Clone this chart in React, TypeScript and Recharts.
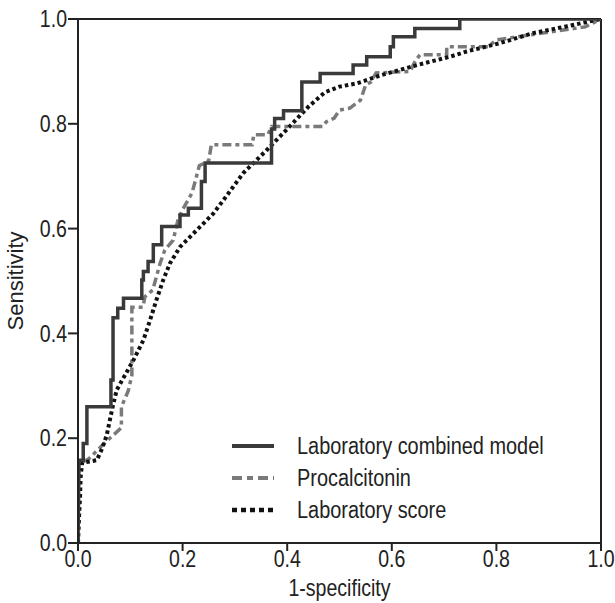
import React from 'react';
import { LineChart, Line, XAxis, YAxis, ReferenceLine } from 'recharts';

// ROC points: false positive rate (1-specificity) and sensitivity
const combinedFpr = [0, 0.002, 0.01, 0.01, 0.017, 0.017, 0.063, 0.063, 0.067, 0.067, 0.076, 0.076, 0.087, 0.087, 0.122, 0.122, 0.125, 0.125, 0.134, 0.134, 0.144, 0.144, 0.16, 0.16, 0.195, 0.195, 0.211, 0.211, 0.236, 0.236, 0.243, 0.243, 0.37, 0.37, 0.376, 0.376, 0.393, 0.393, 0.428, 0.428, 0.463, 0.463, 0.526, 0.526, 0.552, 0.552, 0.597, 0.597, 0.603, 0.603, 0.644, 0.644, 0.73, 0.73, 1];
const combinedTpr = [0, 0.158, 0.158, 0.19, 0.19, 0.26, 0.26, 0.311, 0.311, 0.43, 0.43, 0.448, 0.448, 0.467, 0.467, 0.502, 0.502, 0.518, 0.518, 0.537, 0.537, 0.569, 0.569, 0.604, 0.604, 0.626, 0.626, 0.639, 0.639, 0.69, 0.69, 0.725, 0.725, 0.79, 0.79, 0.81, 0.81, 0.825, 0.825, 0.88, 0.88, 0.896, 0.896, 0.912, 0.912, 0.928, 0.928, 0.947, 0.947, 0.966, 0.966, 0.982, 0.982, 1, 1];

const procalcitoninFpr = [0, 0, 0.02, 0.05, 0.083, 0.083, 0.096, 0.103, 0.103, 0.124, 0.128, 0.143, 0.157, 0.166, 0.182, 0.191, 0.2, 0.218, 0.224, 0.232, 0.25, 0.255, 0.333, 0.336, 0.363, 0.37, 0.468, 0.475, 0.49, 0.5, 0.52, 0.54, 0.55, 0.56, 0.57, 0.635, 0.645, 0.654, 0.705, 0.705, 0.784, 0.8, 0.9, 0.97, 1];
const procalcitoninTpr = [0, 0.15, 0.16, 0.19, 0.22, 0.26, 0.29, 0.32, 0.45, 0.45, 0.47, 0.483, 0.534, 0.559, 0.578, 0.616, 0.636, 0.668, 0.69, 0.72, 0.73, 0.76, 0.76, 0.779, 0.779, 0.795, 0.795, 0.804, 0.811, 0.826, 0.83, 0.845, 0.874, 0.88, 0.897, 0.9, 0.92, 0.932, 0.932, 0.947, 0.947, 0.96, 0.975, 0.985, 1];

const scoreFpr = [0, 0.002, 0.004, 0.005, 0.008, 0.036, 0.046, 0.055, 0.061, 0.067, 0.074, 0.084, 0.106, 0.125, 0.138, 0.15, 0.163, 0.176, 0.195, 0.227, 0.259, 0.283, 0.316, 0.361, 0.4, 0.44, 0.472, 0.5, 0.533, 0.58, 0.648, 0.711, 0.743, 0.807, 0.87, 0.934, 1];
const scoreTpr = [0, 0.05, 0.09, 0.126, 0.153, 0.158, 0.18, 0.206, 0.235, 0.263, 0.292, 0.31, 0.349, 0.387, 0.426, 0.464, 0.502, 0.534, 0.565, 0.597, 0.629, 0.661, 0.706, 0.75, 0.79, 0.832, 0.86, 0.871, 0.877, 0.893, 0.912, 0.928, 0.938, 0.954, 0.973, 0.986, 1];

const axisTicks = [0, 0.2, 0.4, 0.6, 0.8, 1];
const seriesNames = ['Laboratory combined model', 'Procalcitonin', 'Laboratory score'];

const toPoints = (xs: number[], ys: number[]) => xs.map((x, i) => ({ x, y: ys[i] }));

const FONT = '"Liberation Sans", Arial, sans-serif';
const INK = '#222';

// the original uses a narrow Helvetica, so squeeze the text horizontally
const narrow = (origin: string): React.CSSProperties => ({
    transformBox: 'fill-box',
    transformOrigin: origin,
    transform: 'scaleX(0.85)',
});

const styles = [
    { stroke: '#3a3a3a', width: 3.5, dash: undefined as string | undefined, legendDash: undefined as string | undefined },
    { stroke: '#7a7a7a', width: 3.5, dash: '9 4 4 4', legendDash: '10 5 6 5' },
    { stroke: '#111', width: 4, dash: '3.5 3', legendDash: '5 4' },
];

// legend drawn as a plain overlay so it does not shrink the plot area
const LegendBox = () => (
    <div style={{ position: 'absolute', left: 231, top: 430, fontFamily: FONT, fontSize: 23, color: INK }}>
        {seriesNames.map((name, i) => (
            <div key={name} style={{ display: 'flex', alignItems: 'center', height: 32 }}>
                <svg width={44} height={10} style={{ marginRight: 22 }}>
                    <line x1={1} y1={5} x2={43} y2={5} stroke={styles[i].stroke} strokeWidth={styles[i].width + 0.5}
                        strokeDasharray={styles[i].legendDash} />
                </svg>
                <span style={{ display: 'inline-block', transform: 'scaleX(0.865)', transformOrigin: 'left center', whiteSpace: 'nowrap' }}>{name}</span>
            </div>
        ))}
    </div>
);

const App: React.FC = () => {
    const series = [
        toPoints(combinedFpr, combinedTpr),
        toPoints(procalcitoninFpr, procalcitoninTpr),
        toPoints(scoreFpr, scoreTpr),
    ];

    return (
        <div style={{ position: 'absolute', left: 0, top: 0, width: 615, height: 603, background: '#fff' }}>
            <LineChart width={615} height={603} margin={{ top: 19, right: 14, bottom: 0, left: 0 }}>
                <XAxis
                    type="number"
                    dataKey="x"
                    domain={[0, 1]}
                    ticks={axisTicks}
                    tickFormatter={(v: number) => v.toFixed(1)}
                    height={60}
                    tickSize={8}
                    tickMargin={0}
                    axisLine={{ stroke: INK, strokeWidth: 2 }}
                    tickLine={{ stroke: INK, strokeWidth: 2 }}
                    tick={{ fontSize: 23, fill: INK, fontFamily: FONT, style: narrow('center') }}
                    label={{ value: '1-specificity', position: 'insideBottom', offset: 7, fontSize: 23, fill: INK, fontFamily: FONT, style: narrow('center') }}
                    allowDataOverflow
                />
                <YAxis
                    type="number"
                    dataKey="y"
                    domain={[0, 1]}
                    ticks={axisTicks}
                    tickFormatter={(v: number) => v.toFixed(1)}
                    width={78}
                    tickSize={10}
                    tickMargin={1}
                    axisLine={{ stroke: INK, strokeWidth: 2 }}
                    tickLine={{ stroke: INK, strokeWidth: 2 }}
                    tick={{ fontSize: 23, fill: INK, fontFamily: FONT, style: narrow('right center') }}
                    label={{ value: 'Sensitivity', angle: -90, position: 'insideLeft', offset: 15, fontSize: 22, fill: INK, fontFamily: FONT, style: { textAnchor: 'middle' } }}
                    allowDataOverflow
                />
                <ReferenceLine y={1} stroke={INK} strokeWidth={2} />
                <ReferenceLine x={1} stroke={INK} strokeWidth={2} />

                {/* Procalcitonin */}
                <Line data={series[1]} dataKey="y" type="linear" stroke={styles[1].stroke} strokeWidth={styles[1].width}
                    strokeDasharray={styles[1].dash} dot={false} isAnimationActive={false} />
                {/* Laboratory score */}
                <Line data={series[2]} dataKey="y" type="linear" stroke={styles[2].stroke} strokeWidth={styles[2].width}
                    strokeDasharray={styles[2].dash} dot={false} isAnimationActive={false} />
                {/* Laboratory combined model */}
                <Line data={series[0]} dataKey="y" type="linear" stroke={styles[0].stroke} strokeWidth={styles[0].width}
                    dot={false} isAnimationActive={false} />
            </LineChart>
            <LegendBox />
        </div>
    );
};

export default App;
